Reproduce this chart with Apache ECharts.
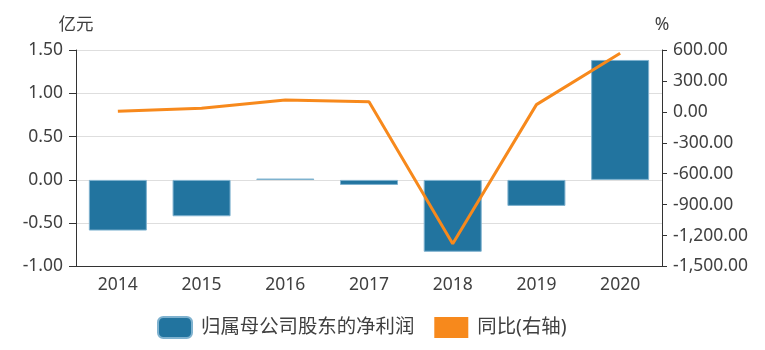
<!DOCTYPE html>
<html>
<head>
<meta charset="utf-8">
<script src="https://cdn.jsdelivr.net/npm/echarts@6/dist/echarts.min.js"></script>
<style>
html,body{margin:0;padding:0;background:#fff;}
#chart{width:765px;height:350px;}
</style>
</head>
<body>
<div id="chart"></div>
<script>
// 年度
var years = ['2014', '2015', '2016', '2017', '2018', '2019', '2020'];
// 归属母公司股东的净利润（亿元）
var netProfit = [-0.585, -0.42, 0.015, -0.058, -0.83, -0.30, 1.385];
// 同比（%）
var yoy = [6, 35, 115, 99, -1280, 70, 568];

var FONT = '"Noto Sans", "Noto Sans CJK SC", sans-serif';
var TEXT = '#404040';

function fmt(v) {
  var s = Math.abs(v).toFixed(2).split('.');
  s[0] = s[0].replace(/\B(?=(\d{3})+(?!\d))/g, ',');
  return (v < 0 ? '-' : '') + s.join('.');
}

var chart = echarts.init(document.getElementById('chart'));
chart.setOption({
  animation: false,
  textStyle: { fontFamily: FONT },
  grid: { left: 76, right: 103, top: 50, bottom: 83.5 },
  legend: {
    bottom: 6,
    left: 152,
    itemWidth: 34,
    itemHeight: 21,
    itemGap: 20,
    textStyle: { fontSize: 19.4, color: TEXT, fontFamily: FONT, padding: [0, 0, 0, 4] },
    data: [
      { name: '归属母公司股东的净利润', icon: 'roundRect' },
      { name: '同比(右轴)', icon: 'rect' }
    ]
  },
  xAxis: {
    type: 'category',
    data: years,
    axisLine: { onZero: false, lineStyle: { color: '#333' } },
    axisTick: { alignWithLabel: true, length: 5, lineStyle: { color: '#333' } },
    axisLabel: { fontSize: 17.5, color: TEXT, margin: 10 }
  },
  yAxis: [
    {
      type: 'value',
      name: '亿元',
      nameGap: 16,
      nameTextStyle: { fontSize: 17.5, color: TEXT, align: 'center' },
      min: -1, max: 1.5, interval: 0.5,
      axisLine: { show: true, lineStyle: { color: '#333' } },
      axisTick: { show: true, length: 7, lineStyle: { color: '#333' } },
      axisLabel: { fontSize: 17.5, color: TEXT, margin: 13, formatter: fmt },
      splitLine: { lineStyle: { color: '#dedede' } }
    },
    {
      type: 'value',
      name: '%',
      nameGap: 16,
      nameTextStyle: { fontSize: 17.5, color: TEXT, align: 'center' },
      min: -1500, max: 600, interval: 300,
      axisLine: { show: true, lineStyle: { color: '#333' } },
      axisTick: { show: true, length: 5, lineStyle: { color: '#333' } },
      axisLabel: { fontSize: 17.5, color: TEXT, margin: 11, formatter: fmt },
      splitLine: { show: false }
    }
  ],
  series: [
    {
      name: '归属母公司股东的净利润',
      type: 'bar',
      data: netProfit,
      barWidth: 58,
      itemStyle: { color: '#22749f', borderColor: '#7fb2cf', borderWidth: 1 }
    },
    {
      name: '同比(右轴)',
      type: 'line',
      yAxisIndex: 1,
      data: yoy,
      symbol: 'none',
      lineStyle: { color: '#f7891c', width: 3 },
      itemStyle: { color: '#f7891c' }
    }
  ]
});
</script>
</body>
</html>
